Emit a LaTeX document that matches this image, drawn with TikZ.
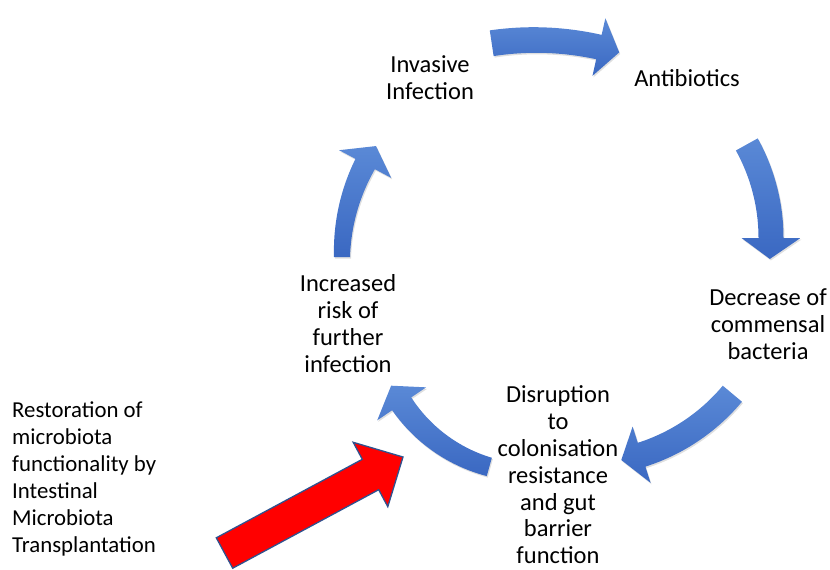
\documentclass[tikz,border=0pt]{standalone}
\usepackage{fontspec}
\setmainfont{Carlito}
\usetikzlibrary{shadows}
\definecolor{arrowtop}{HTML}{5A89D6}
\definecolor{arrowbot}{HTML}{3A68C2}
\definecolor{rimblue}{HTML}{2F528F}
\newcommand{\headw}{59}
\newcommand{\headl}{21}
% curved block arrow: centre, radius, start/end angle, tail/neck width
\newcommand{\cyclearrow}[6]{%
  \path[cyclefill, shift={(#1)}]
    plot[domain=#3:#4, samples=30] (\x:{#2+(#5+(#6-#5)*(\x-(#3))/(#4-(#3)))/2})
    -- (#4:{#2+\headw/2}) -- ({#4+\headl/#2*57.2958}:#2) -- (#4:{#2-\headw/2})
    -- plot[domain=#4:#3, samples=30] (\x:{#2-(#5+(#6-#5)*(\x-(#3))/(#4-(#3)))/2})
    -- cycle;}

\begin{document}
\begin{tikzpicture}[x=1pt, y=-1pt,
    cyclefill/.style={top color=arrowtop, bottom color=arrowbot,
      drop shadow={opacity=.25, shadow xshift=1pt, shadow yshift=-1.5pt}},
    redarrow/.style={fill=red, draw=rimblue, line width=1.3pt, line join=miter},
    steptext/.style={align=center, inner sep=0pt, font=\fontsize{24.5}{26.8}\selectfont},
    sidetext/.style={align=left, inner sep=0pt, font=\fontsize{22.8}{27}\selectfont}]
  \useasboundingbox (0,0) rectangle (830,570);

  % the cycle
  \node[steptext] (inv)  at (430,78)    {Invasive\\Infection};
  \node[steptext] (anti) at (687,78)    {Antibiotics};
  \node[steptext] (decr) at (768,324)   {Decrease of\\commensal\\bacteria};
  \node[steptext] (disr) at (558,475)   {Disruption\\to\\colonisation\\resistance\\and gut\\barrier\\function};
  \node[steptext] (incr) at (348,323.5) {Increased\\risk of\\further\\infection};

  % blue arrows between the steps
  \cyclearrow{535,333}{293}{-98.5}{-77.4}{26}{25}
  \cyclearrow{578,238}{193}{-29}{0}{25}{25}
  \cyclearrow{582,268}{196}{39.9}{72.3}{25}{25}
  \cyclearrow{531,316.6}{156}{105.5}{146}{19}{23}
  \cyclearrow{540,257}{198}{180}{208}{16}{22}

  % intervention
  \node[sidetext, anchor=west] (restore) at (12,478.5)
    {Restoration of\\microbiota\\functionality by\\Intestinal\\Microbiota\\Transplantation};
  \draw[redarrow] (216.3,537.8) -- (362.3,459.3) -- (353.2,442.3) -- (403,457)
    -- (387.8,506.7) -- (378.7,489.7) -- (232.7,568.2) -- cycle;
\end{tikzpicture}
\end{document}
